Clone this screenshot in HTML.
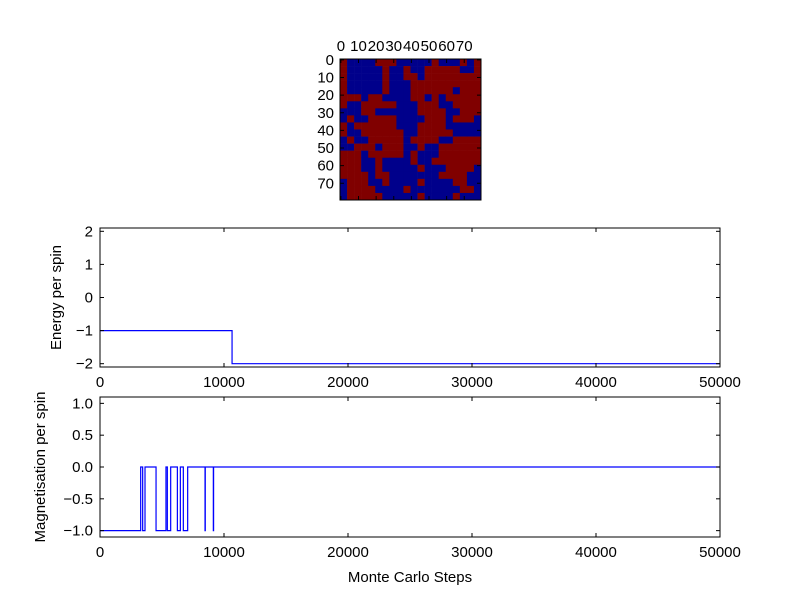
<!DOCTYPE html>
<html><head><meta charset="utf-8"><style>
body{margin:0;background:#fff}
svg{display:block;font-family:"Liberation Sans","DejaVu Sans",sans-serif}
</style></head><body>
<svg id="c" width="800" height="597" xmlns="http://www.w3.org/2000/svg">
<rect width="800" height="597" fill="#fff"/>
</svg>
<script>
// Spin lattice (coarse 20x20 approximation, 1 = up/red, 0 = down/blue)
const spinRows = [
"10000111000001000101","10000010010011111001","10000010011011111111","10000010001111111111",
"10000010001111110111","11101100001101011111","10011111000111001111","00011000000111100111",
"01001111000011101110","10111111000111100000",
"10011111100111110000","01001111101111001111","00111011100100111111","11101111101000111111",
"11100100001001111111","11100100000100011110","11110110000000111100","01110010000100001100",
"01111000010000000110","01111100000100001000"];
const heatTicks = [0,10,20,30,40,50,60,70];
// Energy series (step, value)
const energySteps = [0, 10650, 50000];
const energyValues = [-1, -2, -2];
const energyTicks = [-2,-1,0,1,2];
// Magnetisation series (step, value)
const magSteps = [0,3280,3440,3630,4520,5320,5430,5700,6240,6480,6720,7070,8470,8490,9140,9160,50000];
const magValues = [-1,0,-1,0,-1,0,-1,0,-1,0,-1,0,-1,0,-1,0,0];
const magTicks = [-1.0,-0.5,0.0,0.5,1.0];
const xTicks = [0,10000,20000,30000,40000,50000];

const NS="http://www.w3.org/2000/svg";
const svg=document.getElementById('c');
function el(t,a,p){const e=document.createElementNS(NS,t);for(const k in a)e.setAttribute(k,a[k]);(p||svg).appendChild(e);return e;}
function txt(x,y,s,anchor,size,p){const e=el('text',{x:x,y:y,'text-anchor':anchor||'middle','font-size':size||15,fill:'#000'},p);e.textContent=s;return e;}

// Heatmap
const hx=340,hy=59,hs=141;
const hg=el('g',{});


const n=spinRows.length, cs=hs/n;
spinRows.forEach((row,r)=>{for(let c=0;c<row.length;c++){
 const cell=el('rect',{x:hx+c*cs,y:hy+r*cs,width:cs+0.3,height:cs+0.3,fill:row[c]==='1'?'#800000':'#00008b'},hg);
 
 
}});
el('rect',{x:hx,y:hy,width:hs,height:hs,fill:'none',stroke:'#000','stroke-width':1},hg);
const cell80=hs/80;
heatTicks.forEach(t=>{
 const p=hx+(t+0.5)*cell80, q=hy+(t+0.5)*cell80;
 el('line',{x1:p,y1:hy,x2:p,y2:hy+4,stroke:'#000'},hg);
 el('line',{x1:p,y1:hy+hs,x2:p,y2:hy+hs-4,stroke:'#000'},hg);
 el('line',{x1:hx,y1:q,x2:hx+4,y2:q,stroke:'#000'},hg);
 el('line',{x1:hx+hs,y1:q,x2:hx+hs-4,y2:q,stroke:'#000'},hg);
 const a=txt(p,hy-8,String(t),'middle',15,hg);
 
 const b=txt(hx-6,q+5,String(t),'end',15,hg);
 
});

function panel(name,top,bottom,ymin,ymax,yticks,fmt,steps,vals,ylabel,labelX){
 const L=100,R=720,X0=0,X1=50000;
 const g=el('g',{});
 
 
 const sx=v=>L+(v-X0)/(X1-X0)*(R-L);
 const sy=v=>bottom-(v-ymin)/(ymax-ymin)*(bottom-top);
 let d='';
 for(let i=0;i<steps.length;i++){
  const x=sx(steps[i]),y=sy(vals[i]);
  if(i===0)d+=`M${x},${y}`;else d+=`L${x},${sy(vals[i-1])}L${x},${y}`;
 }
 const line=el('path',{d:d,fill:'none',stroke:'#0000ff','stroke-width':1.2},g);
 
 
 el('rect',{x:L,y:top,width:R-L,height:bottom-top,fill:'none',stroke:'#000'},g);
 yticks.forEach(t=>{const y=sy(t);
  el('line',{x1:L,y1:y,x2:L+4,y2:y,stroke:'#000'},g);
  el('line',{x1:R,y1:y,x2:R-4,y2:y,stroke:'#000'},g);
  const e=txt(L-7,y+5,fmt(t),'end',15,g);
  
 });
 xTicks.forEach(t=>{const x=sx(t);
  el('line',{x1:x,y1:bottom,x2:x,y2:bottom-4,stroke:'#000'},g);
  el('line',{x1:x,y1:top,x2:x,y2:top+4,stroke:'#000'},g);
  const e=txt(x,bottom+20,String(t),'middle',15,g);
  
 });
 const yl=txt(0,0,ylabel,'middle',15,g);
 yl.setAttribute('transform',`translate(${labelX},${(top+bottom)/2}) rotate(-90)`);
 
 
}
panel('energy-chart',228,367,-2.1,2.1,energyTicks,t=>String(t).replace('-','\u2212'),energySteps,energyValues,'Energy per spin',61);
panel('magnetisation-chart',397,537,-1.1,1.1,magTicks,t=>t.toFixed(1).replace('-','\u2212'),magSteps,magValues,'Magnetisation per spin',45);
const xl=txt(410,582,'Monte Carlo Steps','middle',15);


</script>
</body></html>
